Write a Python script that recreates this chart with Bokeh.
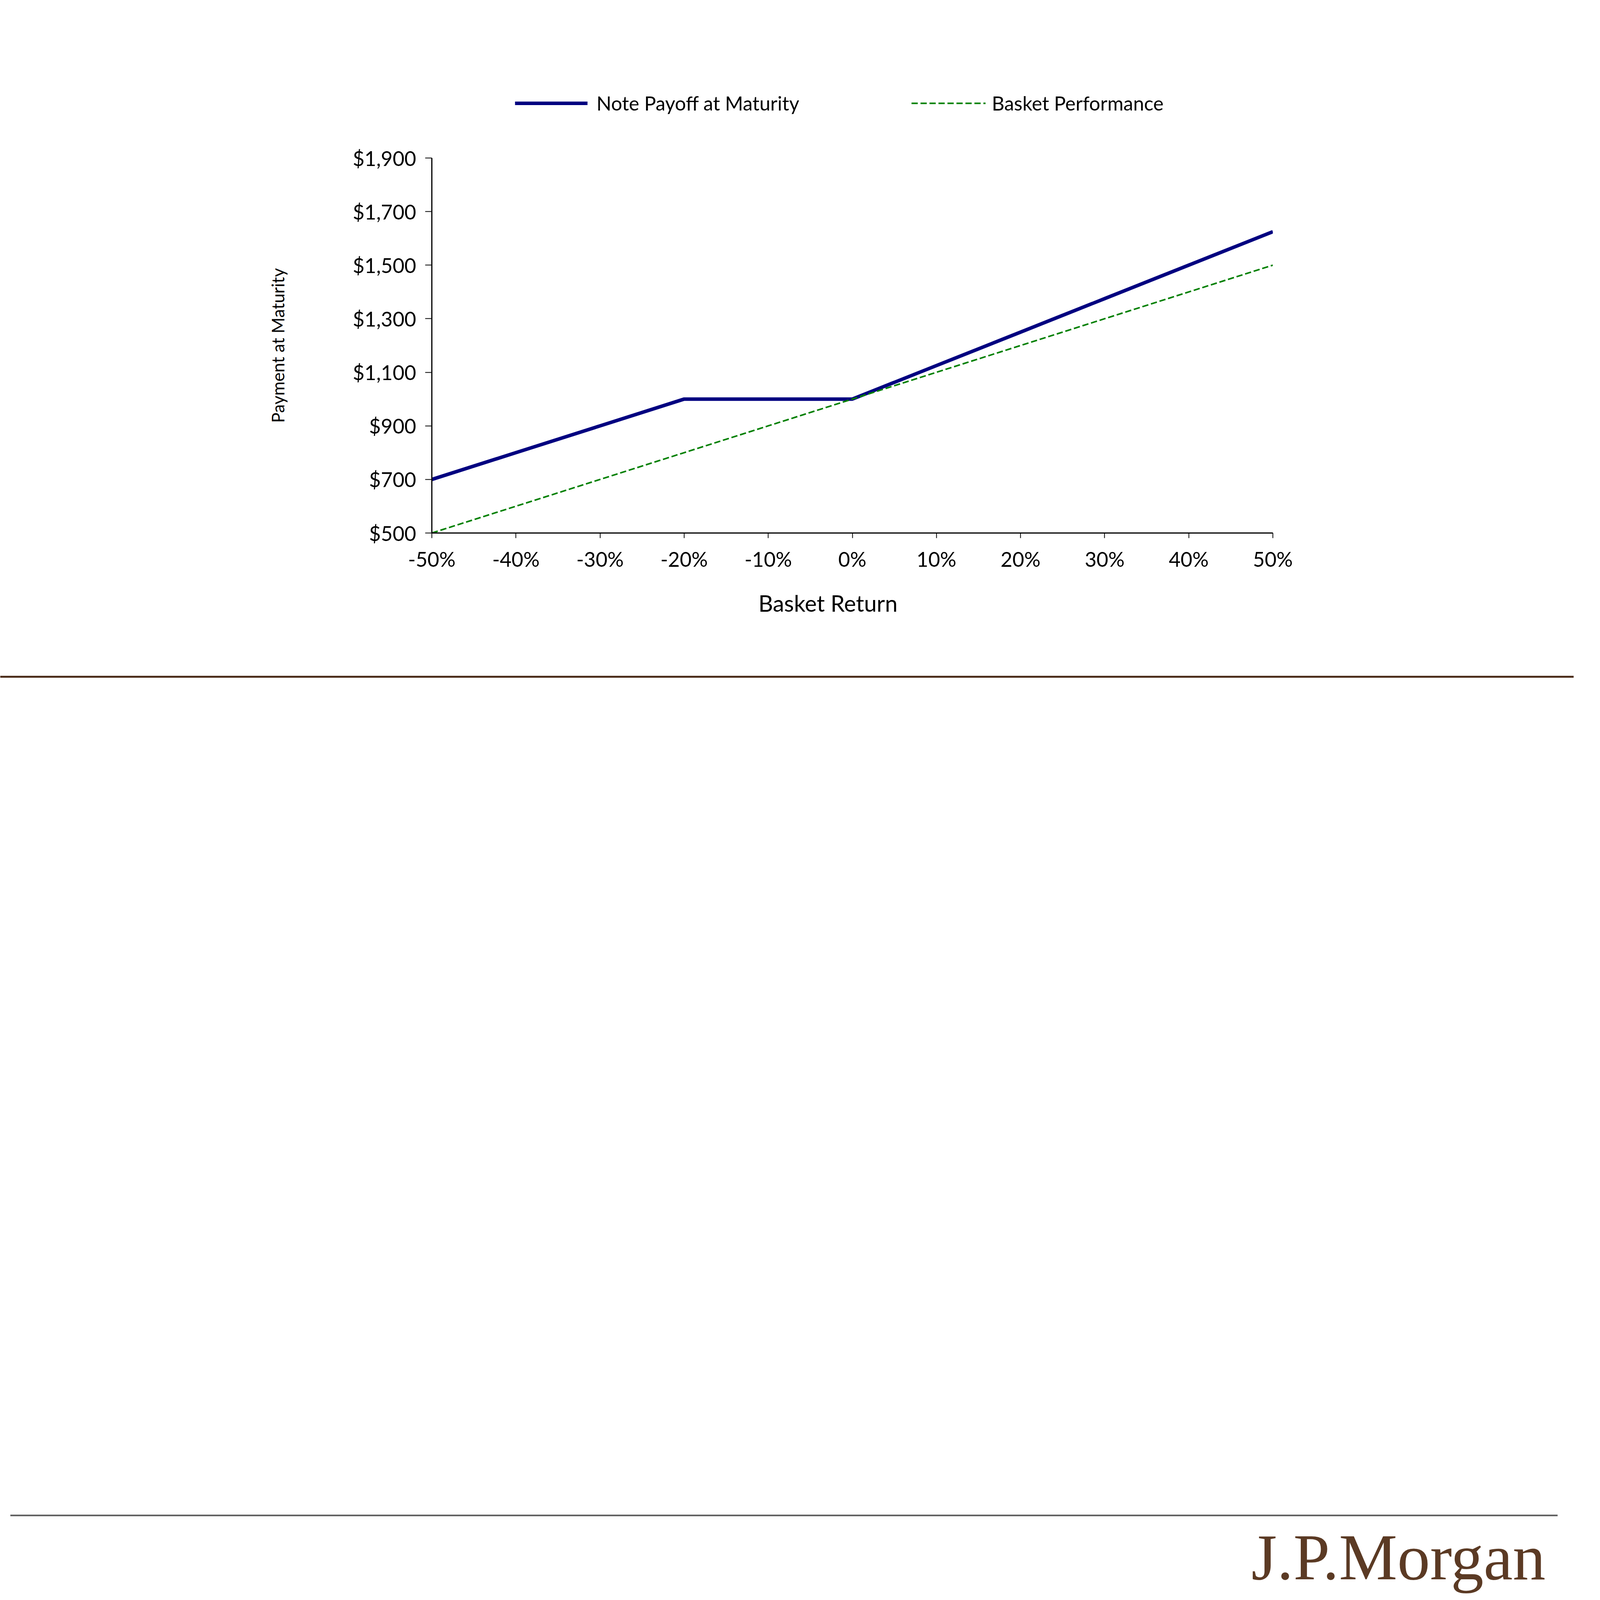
from bokeh.plotting import figure
from bokeh.models import Range1d, FixedTicker, Legend, LegendItem, Title
from bokeh.layouts import column, row
from bokeh.embed import file_html
from bokeh.resources import INLINE
from bokeh.core.properties import value

# ---- data ----
basket_return = [-50, -40, -30, -20, -10, 0, 10, 20, 30, 40, 50]
note_payoff = [700, 800, 900, 1000, 1000, 1000, 1125, 1250, 1375, 1500, 1625]
basket_performance = [500, 600, 700, 800, 900, 1000, 1100, 1200, 1300, 1400, 1500]
y_ticks = [500, 700, 900, 1100, 1300, 1500, 1700, 1900]
y_tick_labels = ["$500", "$700", "$900", "$1,100", "$1,300", "$1,500", "$1,700", "$1,900"]
x_ticks = [-50, -40, -30, -20, -10, 0, 10, 20, 30, 40, 50]
x_tick_labels = ["-50%", "-40%", "-30%", "-20%", "-10%", "0%", "10%", "20%", "30%", "40%", "50%"]
series_names = ["Note Payoff at Maturity", "Basket Performance"]
x_title = "Basket Return"
y_title = "Payment at Maturity"
logo_text = "J.P.Morgan"

# ---- styles ----
W = 4080
FONT = "Lato"
NAVY = "#000080"
GREEN = "#008000"
LW_NOTE = 9
LW_BASKET = 4
DASH = "16 7"

H_TOP = 344     # legend strip
H_CHART = 1320
H_BOT = W - H_TOP - H_CHART   # rules and logo

# ---- legend strip ----
lg = figure(width=W, height=H_TOP, x_range=Range1d(0, 1), y_range=Range1d(0, 1),
            output_backend="svg", toolbar_location=None, x_axis_location=None,
            y_axis_location=None, min_border=0)
lg.outline_line_color = None
lg.grid.visible = False
# legend-only renderers: their data lies outside this strip's ranges, so only the legend samples show
d1 = lg.line(x=[5, 6], y=[5, 6], line_color=NAVY, line_width=LW_NOTE)
d2 = lg.line(x=[5, 6], y=[5, 6], line_color=GREEN, line_width=LW_BASKET, line_dash=DASH)
for name, r, xloc, gw, standoff in ((series_names[0], d1, 1318, 186, 23),
                                     (series_names[1], d2, 2333, 190, 16)):
    lg.add_layout(Legend(items=[LegendItem(label=name, renderers=[r])], location=(xloc, 50),
                         padding=0, margin=0, spacing=0, border_line_alpha=0,
                         background_fill_alpha=0, glyph_width=gw, glyph_height=50,
                         label_height=50, label_standoff=standoff, label_text_font=FONT,
                         label_text_font_size="50px", label_text_color="black"))

# ---- chart ----
p = figure(width=W, height=H_CHART, x_range=Range1d(-50, 50), y_range=Range1d(500, 1900),
           output_backend="svg", toolbar_location=None,
           min_border_left=1105, min_border_right=822, min_border_top=60, min_border_bottom=300)
p.outline_line_color = None
p.grid.visible = False

p.xaxis.ticker = FixedTicker(ticks=x_ticks)
p.yaxis.ticker = FixedTicker(ticks=y_ticks)
p.xaxis.major_label_overrides = {t: l for t, l in zip(x_ticks, x_tick_labels)}
p.yaxis.major_label_overrides = {t: l for t, l in zip(y_ticks, y_tick_labels)}
for ax in (p.xaxis, p.yaxis):
    ax.axis_line_width = 3
    ax.axis_line_color = "black"
    ax.major_tick_line_width = 2
    ax.major_tick_line_color = "black"
    ax.major_tick_in = 0
    ax.minor_tick_line_color = None
    ax.major_label_text_font = FONT
    ax.major_label_text_font_size = "52px"
    ax.major_label_text_color = "black"
    ax.axis_label_text_font = FONT
    ax.axis_label_text_font_size = "44px"
    ax.axis_label_text_font_style = "normal"
    ax.axis_label_text_color = "black"
p.xaxis.major_tick_out = 13
p.yaxis.major_tick_out = 17
p.xaxis.major_label_standoff = 22
p.yaxis.major_label_standoff = 23
p.yaxis.axis_label = y_title
p.yaxis.axis_label_standoff = 163

p.add_layout(Title(text=x_title, align="left", offset=836, vertical_align="middle",
                   standoff=86, text_font=FONT, text_font_size="58px",
                   text_font_style="normal", text_color="black"), "below")

p.line(basket_return, note_payoff, line_color=NAVY, line_width=LW_NOTE)
p.line(basket_return, basket_performance, line_color=GREEN, line_width=LW_BASKET, line_dash=DASH)

# ---- lower page: rules and logo (pixel space of this strip) ----
q = figure(width=W, height=H_BOT, x_range=Range1d(0, W), y_range=Range1d(0, H_BOT),
           output_backend="svg", toolbar_location=None, x_axis_location=None,
           y_axis_location=None, min_border=0)
q.outline_line_color = None
q.grid.visible = False
q.line([0, 4028], [2348, 2348], line_color="#4d2f1c", line_width=5)
q.line([26, 3987], [201, 201], line_color="#5a5a5a", line_width=4)
q.text(x=[3203], y=[95], text=[logo_text], text_font=value("Liberation Serif"),
       text_font_size="168px", text_color="#5b3a24", text_baseline="alphabetic", text_align="left")

layout = column(lg, row(p), q, spacing=0)
open("out.html", "w").write(file_html(layout, INLINE))
